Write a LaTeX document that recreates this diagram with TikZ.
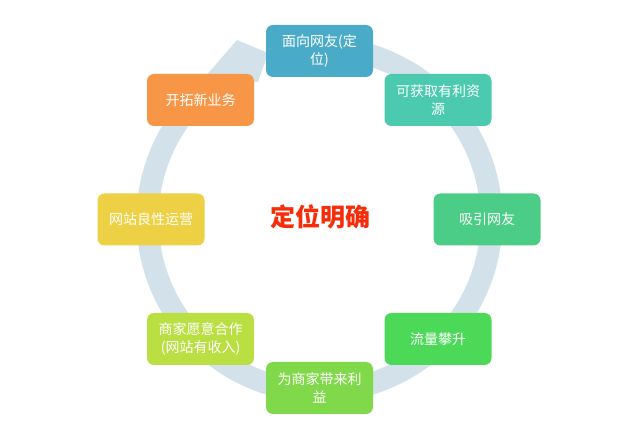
\documentclass[tikz,border=0pt]{standalone}
\usepackage{fontspec}
\newfontfamily\cjk{Noto Sans CJK SC}
\usetikzlibrary{positioning}
\definecolor{ringc}{RGB}{211,226,234}
\definecolor{cA}{RGB}{74,171,200}
\definecolor{cB}{RGB}{76,202,176}
\definecolor{cC}{RGB}{76,205,135}
\definecolor{cD}{RGB}{76,217,88}
\definecolor{cE}{RGB}{128,217,74}
\definecolor{cF}{RGB}{185,223,67}
\definecolor{cG}{RGB}{238,208,68}
\definecolor{cH}{RGB}{247,150,70}
\definecolor{centred}{RGB}{246,45,10}
\begin{document}
\begin{tikzpicture}[x=1pt,y=-1pt,
  stepbox/.style={fill=#1, rounded corners=7pt, minimum width=107pt, minimum height=52pt,
    inner sep=2pt, text=white, align=center,
    font=\cjk\fontsize{14}{18}\selectfont},
  ringline/.style={draw=ringc, line width=22pt}]
\useasboundingbox[fill=white] (0,0) rectangle (630,430);
\coordinate (ctr) at (319.5,219.5);
% ring with arrow head (angles negated because y points down)
\draw[ringline] (ctr) ++(-95:172) arc[start angle=-95, end angle=243, radius=172];
\fill[ringc] (205,77) -- (237,40) -- (268,53) -- (258,82) -- cycle;
% boxes
\node[stepbox=cA] (n1) at (319.5,51) {面向网友(定\\位)};
\node[stepbox=cB] (n2) at (438,100) {可获取有利资\\源};
\node[stepbox=cC] (n3) at (487,219.5) {吸引网友};
\node[stepbox=cD] (n4) at (438,339) {流量攀升};
\node[stepbox=cE] (n5) at (319.5,388) {为商家带来利\\益};
\node[stepbox=cF] (n6) at (200.5,339) {商家愿意合作\\(网站有收入)};
\node[stepbox=cG] (n7) at (151,219.5) {网站良性运营};
\node[stepbox=cH] (n8) at (200.5,100) {开拓新业务};
\node[text=centred, font=\cjk\bfseries\fontsize{25}{30}\selectfont] (c) at (320,217) {定位明确};
\end{tikzpicture}
\end{document}
